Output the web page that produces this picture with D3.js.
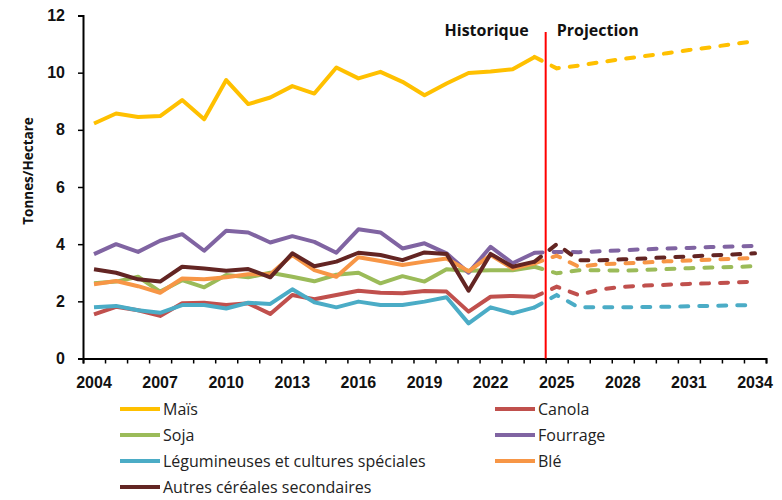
<!DOCTYPE html>
<html>
<head>
<meta charset="utf-8">
<script src="https://cdn.jsdelivr.net/npm/d3@7"></script>
<style>
  body { margin: 0; background: #fff; }
  svg { display: block; font-family: 'Open Sans', sans-serif; }
</style>
</head>
<body>
<div id="chart"></div>
<script>
// years on the category axis, labels every third year
const years = d3.range(2004, 2035);
const tickYears = [2004, 2007, 2010, 2013, 2016, 2019, 2022, 2025, 2028, 2031, 2034];
const yTicks = [0, 2, 4, 6, 8, 10, 12];
const lastHistoric = 2024;

// yields, t/ha (2004-2024 historic, 2025-2034 projection)
const mais = [8.22, 8.57, 8.45, 8.48, 9.04, 8.37, 9.74, 8.90, 9.13, 9.53, 9.27, 10.18, 9.80, 10.03, 9.68, 9.21, 9.62, 9.99, 10.04, 10.12, 10.55,
  10.15, 10.25, 10.37, 10.48, 10.58, 10.68, 10.79, 10.89, 11.00, 11.10];
const canola = [1.54, 1.81, 1.69, 1.49, 1.93, 1.95, 1.87, 1.93, 1.56, 2.22, 2.07, 2.22, 2.37, 2.30, 2.28, 2.36, 2.34, 1.64, 2.16, 2.19, 2.16,
  2.51, 2.22, 2.42, 2.51, 2.55, 2.58, 2.61, 2.63, 2.66, 2.69];
const soja = [2.63, 2.69, 2.86, 2.34, 2.74, 2.49, 2.92, 2.84, 3.00, 2.86, 2.70, 2.93, 3.00, 2.63, 2.88, 2.69, 3.12, 3.07, 3.09, 3.09, 3.21,
  2.98, 3.09, 3.09, 3.07, 3.10, 3.13, 3.16, 3.18, 3.20, 3.23];
const fourrage = [3.65, 4.00, 3.73, 4.12, 4.35, 3.77, 4.47, 4.41, 4.06, 4.28, 4.08, 3.70, 4.52, 4.41, 3.85, 4.03, 3.68, 3.00, 3.91, 3.33, 3.70,
  3.73, 3.72, 3.75, 3.79, 3.82, 3.85, 3.87, 3.90, 3.92, 3.94];
const legumineuses = [1.79, 1.84, 1.69, 1.60, 1.87, 1.87, 1.75, 1.95, 1.91, 2.42, 1.97, 1.79, 1.99, 1.87, 1.87, 1.99, 2.14, 1.23, 1.79, 1.58, 1.79,
  2.22, 1.79, 1.79, 1.79, 1.80, 1.81, 1.83, 1.84, 1.86, 1.87];
const ble = [2.60, 2.71, 2.53, 2.30, 2.80, 2.77, 2.84, 2.95, 2.95, 3.62, 3.09, 2.86, 3.54, 3.41, 3.27, 3.39, 3.50, 3.05, 3.62, 3.15, 3.33,
  3.60, 3.21, 3.30, 3.33, 3.36, 3.40, 3.43, 3.46, 3.49, 3.52];
const autres = [3.12, 3.00, 2.77, 2.69, 3.21, 3.15, 3.07, 3.13, 2.84, 3.68, 3.23, 3.39, 3.70, 3.62, 3.44, 3.71, 3.66, 2.37, 3.66, 3.21, 3.39,
  4.00, 3.44, 3.44, 3.47, 3.50, 3.54, 3.57, 3.61, 3.64, 3.68];

const series = [
  {name: 'Maïs', values: mais, color: '#FFC000'},
  {name: 'Canola', values: canola, color: '#C0504D'},
  {name: 'Soja', values: soja, color: '#9BBB59'},
  {name: 'Fourrage', values: fourrage, color: '#8064A2'},
  {name: 'Légumineuses et cultures spéciales', values: legumineuses, color: '#4BACC6'},
  {name: 'Blé', values: ble, color: '#F79646'},
  {name: 'Autres céréales secondaires', values: autres, color: '#632523'}
];

const width = 782, height = 500;
const plotLeft = 83, plotRight = 766, plotTop = 15.5, plotBottom = 358.5;

const svg = d3.select('#chart').append('svg')
  .attr('width', width)
  .attr('height', height);

const x = d3.scaleBand().domain(years).range([plotLeft, plotRight]).padding(0);
const xEdge = d3.scaleLinear().domain([0, years.length]).range([plotLeft, plotRight]);
const y = d3.scaleLinear().domain([0, 12]).range([plotBottom, plotTop]);
const cx = d => x(d) + x.bandwidth() / 2;

// y axis
const yAxis = svg.append('g')
  .attr('transform', `translate(${plotLeft},0)`)
  .call(d3.axisLeft(y).tickValues(yTicks).tickSize(5).tickPadding(13).tickFormat(d3.format('d')));
yAxis.select('.domain').attr('stroke', '#000').attr('stroke-width', 2);
yAxis.selectAll('.tick line').attr('stroke', '#000').attr('stroke-width', 1.5);
yAxis.selectAll('text').attr('font-size', 16).attr('font-weight', 'bold').attr('fill', '#111');

// x axis: tick marks between categories, labels centred in categories
const xTicksG = svg.append('g')
  .attr('transform', `translate(0,${plotBottom})`)
  .call(d3.axisBottom(xEdge).tickValues(d3.range(0, years.length + 1)).tickSize(5).tickFormat(''));
xTicksG.select('.domain').attr('stroke', '#000').attr('stroke-width', 2);
xTicksG.selectAll('.tick line').attr('stroke', '#000').attr('stroke-width', 1.5);

const xLabels = svg.append('g')
  .attr('transform', `translate(0,${plotBottom})`)
  .call(d3.axisBottom(x).tickValues(tickYears).tickSize(0).tickPadding(18));
xLabels.select('.domain').remove();
xLabels.selectAll('text').attr('font-size', 16).attr('font-weight', 'bold').attr('fill', '#111');

// y title
svg.append('text')
  .attr('transform', 'translate(33,171) rotate(-90)')
  .attr('text-anchor', 'middle')
  .attr('font-size', 13.5)
  .attr('font-weight', 'bold')
  .attr('fill', '#111')
  .text('Tonnes/Hectare');

const line = d3.line()
  .x(d => cx(d.year))
  .y(d => y(d.value));

const cut = years.indexOf(lastHistoric);

series.forEach(s => {
  const pts = years.map((yr, i) => ({year: yr, value: s.values[i]}));
  svg.append('path')
    .datum(pts.slice(0, cut + 1))
    .attr('d', line)
    .attr('fill', 'none')
    .attr('stroke', s.color)
    .attr('stroke-width', 4)
    .attr('stroke-linejoin', 'round');
  svg.append('path')
    .datum(pts.slice(cut))
    .attr('d', line)
    .attr('fill', 'none')
    .attr('stroke', s.color)
    .attr('stroke-width', 4)
    .attr('stroke-linecap', 'round')
    .attr('stroke-dasharray', '8,11');
});

// historic / projection divider
const divX = xEdge(cut + 1);
svg.append('line')
  .attr('x1', divX).attr('x2', divX)
  .attr('y1', 32).attr('y2', plotBottom)
  .attr('stroke', '#FF0000')
  .attr('stroke-width', 2);

svg.append('text')
  .attr('x', divX - 17).attr('y', 36)
  .attr('text-anchor', 'end')
  .attr('font-size', 16)
  .attr('font-weight', 'bold')
  .attr('fill', '#111')
  .text('Historique');
svg.append('text')
  .attr('x', divX + 11).attr('y', 36)
  .attr('font-size', 16)
  .attr('font-weight', 'bold')
  .attr('fill', '#111')
  .text('Projection');

// legend, two columns
const legend = svg.append('g');
series.forEach((s, i) => {
  const col = i % 2, row = Math.floor(i / 2);
  const gx = col === 0 ? 120 : 495;
  const gy = 409 + row * 26;
  legend.append('line')
    .attr('x1', gx).attr('x2', gx + 40)
    .attr('y1', gy).attr('y2', gy)
    .attr('stroke', s.color)
    .attr('stroke-width', 4);
  legend.append('text')
    .attr('x', gx + 43).attr('y', gy)
    .attr('dy', '0.35em')
    .attr('font-size', 16)
    .attr('fill', '#222')
    .text(s.name);
});
</script>
</body>
</html>
